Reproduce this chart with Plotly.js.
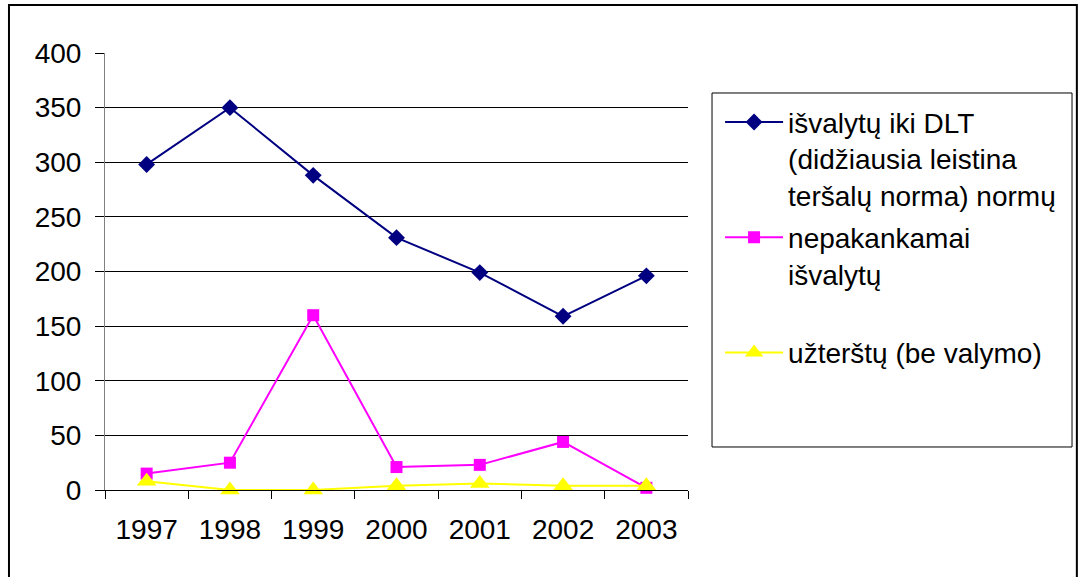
<!DOCTYPE html>
<html>
<head>
<meta charset="utf-8">
<script src="https://cdn.plot.ly/plotly-3.0.1.min.js"></script>
<style>html,body{margin:0;padding:0;background:#fff;}#chart{width:1081px;height:577px;}</style>
</head>
<body>
<div id="chart"></div>
<script>
const years = ["1997","1998","1999","2000","2001","2002","2003"];
const isvalytu = [298, 350, 288, 231, 199, 159, 196];
const nepakankamai = [15, 25, 160, 21, 23, 44, 2];
const uztarstu = [8, 0, 0, 4, 6, 4, 4];
const names = [
  "išvalytų iki DLT<br>(didžiausia leistina<br>teršalų norma) normų",
  "nepakankamai<br>išvalytų<br> ",
  "užterštų (be valymo)"
];
const yTicks = [0, 50, 100, 150, 200, 250, 300, 350, 400];

const font = "Liberation Sans, Arial, sans-serif";
const fs = 28;
const traces = [
  {x: years, y: isvalytu, name: names[0], legendgroup: "a", type: "scatter", mode: "lines+markers", cliponaxis: false,
   line: {color: "#000080", width: 2}, marker: {symbol: "diamond", size: 13, color: "#000080"}},
  {x: years, y: nepakankamai, name: names[1], legendgroup: "b", type: "scatter", mode: "lines+markers", cliponaxis: false,
   line: {color: "#FF00FF", width: 2}, marker: {symbol: "square", size: 12, color: "#FF00FF"}},
  {x: years, y: uztarstu, name: names[2], legendgroup: "c", type: "scatter", mode: "lines+markers", cliponaxis: false,
   line: {color: "#FFFF00", width: 2}, marker: {symbol: "triangle-up", size: 17, color: "#FFFF00"}}
];
const layout = {
  width: 1081, height: 577,
  margin: {l: 105, r: 393, t: 53, b: 87},
  paper_bgcolor: "#fff", plot_bgcolor: "#fff",
  font: {family: font, size: fs, color: "#000"},
  showlegend: true,
  legend: {x: 1.055, y: 0.8985, xanchor: "left", yanchor: "top", valign: "top",
           font: {family: font, size: fs, color: "#000"}, tracegroupgap: 3,
           itemwidth: 58, bgcolor: "rgba(0,0,0,0)", borderwidth: 0},
  xaxis: {type: "category", range: [-0.5, 6.5], showgrid: false, zeroline: false,
          showline: true, linecolor: "#000", linewidth: 1,
          ticks: "outside", tickson: "boundaries", ticklen: 8, tickcolor: "#000",
          ticklabelstandoff: 14, tickfont: {family: font, size: fs, color: "#000"}},
  yaxis: {range: [0, 400], tickvals: yTicks, ticktext: yTicks.map(String),
          showgrid: true, gridcolor: "#000", gridwidth: 1, zeroline: false,
          showline: true, linecolor: "#808080", linewidth: 1,
          ticks: "outside", ticklen: 9, tickcolor: "#000",
          ticklabelstandoff: 8, tickfont: {family: font, size: fs, color: "#000"}},
  shapes: [
    {type: "rect", xref: "paper", yref: "paper", x0: -0.1647, x1: 1.667, y0: -0.3, y1: 1.1098,
     line: {color: "#000", width: 2}, fillcolor: "rgba(0,0,0,0)", layer: "below"},
    {type: "rect", xref: "paper", yref: "paper", x0: 1.0412, x1: 1.6587, y0: 0.0984, y1: 0.9085,
     line: {color: "#000", width: 1}, fillcolor: "rgba(0,0,0,0)"}
  ]
};
Plotly.newPlot("chart", traces, layout, {staticPlot: true, displayModeBar: false});
</script>
</body>
</html>
